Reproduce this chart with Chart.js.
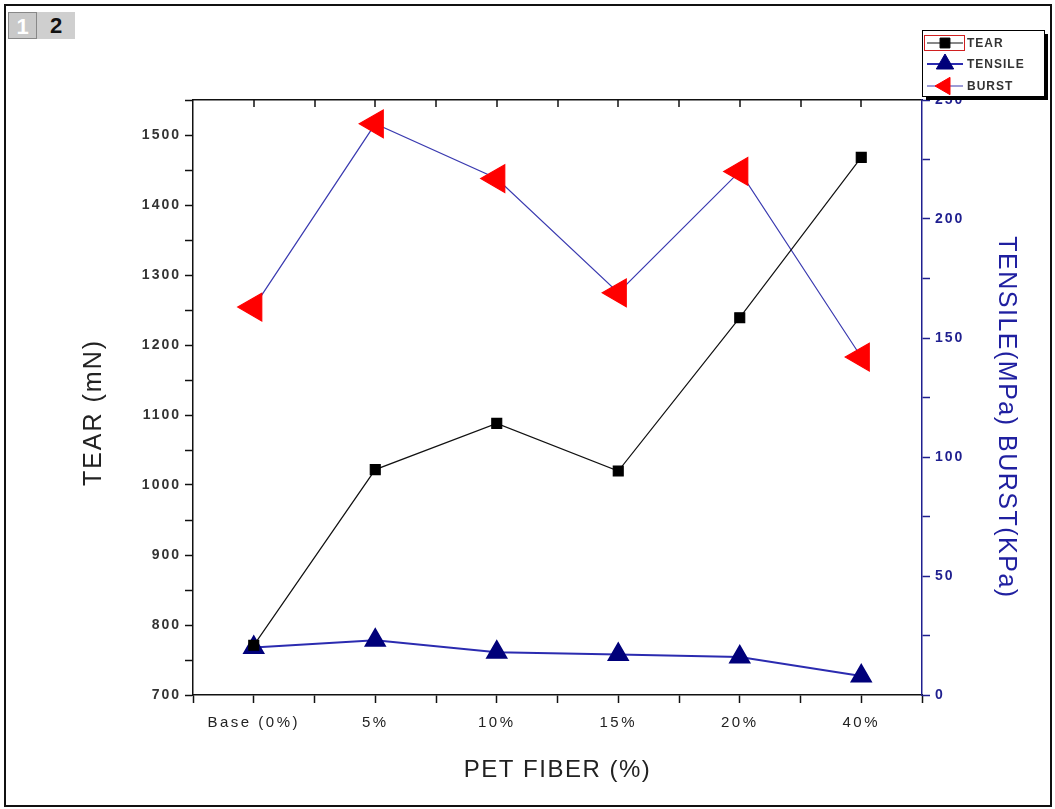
<!DOCTYPE html>
<html>
<head>
<meta charset="utf-8">
<script src="https://cdn.jsdelivr.net/npm/chart.js@4.4.0/dist/chart.umd.min.js"></script>
<style>
  body { margin: 0; background: #fff; font-family: "Liberation Sans", Arial, sans-serif; }
  #wrap { position: relative; width: 1055px; height: 809px; }
  #frame { position: absolute; left: 4px; top: 4px; width: 1044px; height: 799px; border: 2px solid #111; box-sizing: content-box; }
  .tab { position: absolute; top: 12px; height: 27px; font-weight: bold; font-size: 22px; text-align: center; line-height: 27px; }
  #tab1 { left: 8px; width: 29px; background: #c9c9c9; color: #fff; border: 1px solid #888; box-sizing: border-box; }
  #tab2 { left: 37px; width: 38px; background: #cfcfcf; color: #111; }
  canvas { position: absolute; left: 0; top: 0; }
</style>
</head>
<body>
<div id="wrap">
  <div id="frame"></div>
  <div class="tab" id="tab1">1</div>
  <div class="tab" id="tab2">2</div>
  <canvas id="chart" width="1055" height="809"></canvas>
</div>
<script>
// Categories and series
const categories = ["Base (0%)", "5%", "10%", "15%", "20%", "40%"];
const tear = [771, 1022, 1088, 1020, 1239, 1468];      // mN, left axis
const tensile = [20, 23, 18, 17, 16, 8];               // MPa, right axis
const burst = [163, 240, 217, 169, 220, 142];          // KPa, right axis

const navy = '#1f1f8f';
const family = '"Liberation Sans", Arial, sans-serif';

// x is drawn as a linear scale so the half-way minor ticks show up
function toPoints(values) {
    return values.map((v, i) => ({ x: i, y: v }));
}

// Origin draws its text wide, so give each scale's labels/title some letter spacing
// (titleShift nudges the title along the axis, Origin centres it a bit lower)
function spaceOut(labelSpacing, titleSpacing, titleShift) {
    return function (s) {
        const proto = Object.getPrototypeOf(s);
        s.drawLabels = function (area) {
            this.ctx.save();
            this.ctx.letterSpacing = labelSpacing;
            proto.drawLabels.call(this, area);
            this.ctx.restore();
        };
        s.drawTitle = function () {
            this.ctx.save();
            this.ctx.letterSpacing = titleSpacing;
            this.ctx.translate(0, titleShift || 0);
            proto.drawTitle.call(this);
            this.ctx.restore();
        };
    };
}

// Inward ticks along the top edge, mirroring the bottom axis
const topTicks = {
    id: 'topTicks',
    afterDraw(chart) {
        const ctx = chart.ctx;
        const sx = chart.scales.x;
        const top = chart.chartArea.top;
        ctx.save();
        ctx.strokeStyle = '#111';
        ctx.lineWidth = 1.5;
        sx.ticks.forEach(t => {
            const px = Math.round(sx.getPixelForValue(t.value));
            if (px <= chart.chartArea.left + 1 || px >= chart.chartArea.right - 1) return;
            ctx.beginPath();
            ctx.moveTo(px, top);
            ctx.lineTo(px, top + 7);
            ctx.stroke();
        });
        ctx.restore();
    }
};

// Legend box in the top right corner, drawn over the axis
const legendBox = {
    id: 'legendBox',
    afterDraw(chart) {
        const ctx = chart.ctx;
        ctx.save();
        ctx.letterSpacing = '1px';
        const x = 922, y = 30, w = 122, h = 66;
        ctx.fillStyle = '#000';
        ctx.fillRect(x + 4, y + 4, w, h);
        ctx.fillStyle = '#fff';
        ctx.fillRect(x, y, w, h);
        ctx.strokeStyle = '#000';
        ctx.lineWidth = 1;
        ctx.strokeRect(x + 0.5, y + 0.5, w, h);

        const rows = [
            { label: 'TEAR', ds: 0, yy: 43, r: 7 },
            { label: 'TENSILE', ds: 1, yy: 64, r: 10 },
            { label: 'BURST', ds: 2, yy: 86, r: 10 }
        ];
        rows.forEach(r => {
            const ds = chart.data.datasets[r.ds];
            ctx.strokeStyle = ds.borderColor;
            ctx.lineWidth = ds.borderWidth;
            ctx.beginPath();
            ctx.moveTo(927, r.yy);
            ctx.lineTo(963, r.yy);
            ctx.stroke();
            ctx.fillStyle = ds.pointBackgroundColor;
            ctx.strokeStyle = ds.pointBorderColor;
            ctx.lineWidth = 1;
            Chart.helpers.drawPoint(ctx, {
                pointStyle: ds.pointStyle,
                rotation: ds.pointRotation || 0,
                radius: r.r,
                borderWidth: 1
            }, 945, r.yy);
            ctx.fillStyle = '#333';
            ctx.font = 'bold 12px ' + family;
            ctx.textBaseline = 'middle';
            ctx.fillText(r.label, 967, r.yy + 1);
        });
        // selection highlight round the TEAR sample
        ctx.strokeStyle = '#d02020';
        ctx.lineWidth = 1;
        ctx.strokeRect(924.5, 35.5, 40, 15);
        ctx.restore();
    }
};

const yTickFont = { family: family, size: 14, weight: 'bold' };

new Chart(document.getElementById('chart'), {
    type: 'line',
    data: {
        datasets: [
            {
                label: 'TEAR',
                data: toPoints(tear),
                yAxisID: 'y',
                borderColor: '#111',
                borderWidth: 1.2,
                pointStyle: 'rect',
                pointRadius: 7,
                pointBackgroundColor: '#000',
                pointBorderColor: '#000',
                tension: 0
            },
            {
                label: 'TENSILE',
                data: toPoints(tensile),
                yAxisID: 'y1',
                borderColor: '#2b2bb0',
                borderWidth: 2,
                pointStyle: 'triangle',
                pointRadius: 11,
                pointBackgroundColor: '#00007a',
                pointBorderColor: '#00007a',
                tension: 0
            },
            {
                label: 'BURST',
                data: toPoints(burst),
                yAxisID: 'y1',
                borderColor: '#3a3ab0',
                borderWidth: 1.2,
                pointStyle: 'triangle',
                pointRotation: -90,
                pointRadius: 16,
                pointBackgroundColor: '#ff0000',
                pointBorderColor: '#ff0000',
                tension: 0
            }
        ]
    },
    options: {
        responsive: false,
        animation: false,
        layout: { padding: { left: 75, right: 30, top: 100, bottom: 20 } },
        plugins: { legend: { display: false }, tooltip: { enabled: false } },
        scales: {
            x: {
                type: 'linear',
                position: 'bottom',
                min: -0.5,
                max: 5.5,
                afterBuildTicks: s => {
                    s.ticks = [];
                    for (let k = -1; k <= 11; k++) s.ticks.push({ value: k / 2 });
                },
                ticks: {
                    autoSkip: false,
                    maxRotation: 0,
                    padding: 11,
                    color: '#222',
                    font: { family: family, size: 15 },
                    callback: v => Number.isInteger(v) && v >= 0 ? categories[v] : ''
                },
                grid: { drawOnChartArea: false, tickLength: 8, color: '#111', tickWidth: 1.5 },
                border: { display: true, color: '#111', width: 1.5 },
                title: { display: true, text: 'PET FIBER (%)', color: '#222', font: { family: family, size: 24 }, padding: 4 },
                afterUpdate: spaceOut('2.5px', '1.5px', 0),
                afterFit: s => { s.height = 94; }
            },
            x2: {
                type: 'linear',
                position: 'top',
                min: -0.5,
                max: 5.5,
                ticks: { display: false },
                grid: { drawOnChartArea: false, drawTicks: false },
                border: { display: true, color: '#111', width: 1.5 }
            },
            y: {
                position: 'left',
                min: 700,
                max: 1550,
                ticks: {
                    stepSize: 50,
                    padding: 4,
                    color: '#333',
                    font: yTickFont,
                    callback: v => v % 100 === 0 ? v : ''
                },
                grid: { drawOnChartArea: false, tickLength: 8, color: '#111', tickWidth: 1.5 },
                border: { display: true, color: '#111', width: 1.5 },
                title: { display: true, text: 'TEAR (mN)', color: '#222', font: { family: family, size: 25 }, padding: 4 },
                afterUpdate: spaceOut('2px', '2px', 15),
                afterFit: s => { s.width = 118; }
            },
            y1: {
                position: 'right',
                min: 0,
                max: 250,
                ticks: {
                    stepSize: 25,
                    padding: 5,
                    color: navy,
                    font: yTickFont,
                    callback: v => v % 50 === 0 ? v : ''
                },
                grid: { drawOnChartArea: false, tickLength: 8, color: navy, tickWidth: 1.5 },
                border: { display: true, color: navy, width: 1.5 },
                title: { display: true, text: 'TENSILE(MPa) BURST(KPa)', color: '#2020a0', font: { family: family, size: 25 }, padding: 4 },
                afterUpdate: spaceOut('2px', '1.5px', 20),
                afterFit: s => { s.width = 103; }
            }
        }
    },
    plugins: [topTicks, legendBox]
});
</script>
</body>
</html>
